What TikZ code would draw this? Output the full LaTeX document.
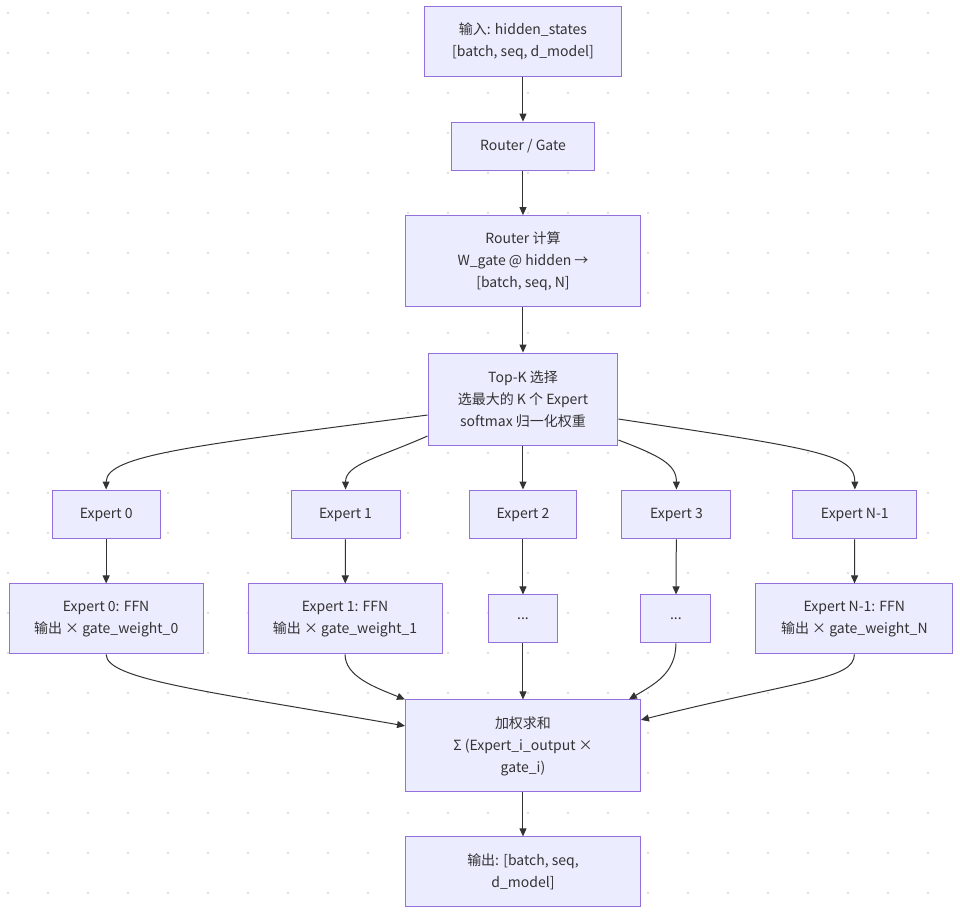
\documentclass[tikz,border=0pt]{standalone}
\usepackage{fontspec}
\setmainfont{Noto Sans CJK SC}
\usetikzlibrary{arrows.meta}
\definecolor{boxfill}{HTML}{ECECFF}
\definecolor{boxline}{HTML}{9370DB}
\definecolor{ink}{HTML}{333333}
\definecolor{dotc}{HTML}{E0E0E0}
\begin{document}
\begin{tikzpicture}[x=1pt,y=-1pt,
  box/.style={draw=boxline,fill=boxfill,line width=1pt,text=ink,align=center,
    inner sep=0pt,font=\fontsize{14}{22}\selectfont},
  arr/.style={draw=ink,line width=1pt,-{Triangle[length=8pt,width=7pt]}}]
\draw[white,fill=white] (0,0) rectangle (960,919);

% dot grid
\foreach \i in {0,...,23}
  \foreach \j in {0,...,22}
    \fill[dotc] (7+40*\i,12+40*\j) rectangle ++(2,2);

% main column
\node[box,minimum width=198pt,minimum height=70pt] (in) at (523,41) {输入: hidden\_states\\{}[batch, seq, d\_model]};
\node[box,minimum width=144pt,minimum height=48pt] (gate) at (523,146) {Router / Gate};
\node[box,minimum width=235pt,minimum height=91pt] (calc) at (523,261) {Router 计算\\W\_gate @ hidden →\\{}[batch, seq, N]};
\node[box,minimum width=190pt,minimum height=92pt] (topk) at (523,399) {Top-K 选择\\选最大的 K 个 Expert\\softmax 归一化权重};

% experts
\node[box,minimum width=108pt,minimum height=49pt] (e0) at (106,514.5) {Expert 0};
\node[box,minimum width=109pt,minimum height=49pt] (e1) at (345.5,514.5) {Expert 1};
\node[box,minimum width=108pt,minimum height=49pt] (e2) at (523,514.5) {Expert 2};
\node[box,minimum width=109pt,minimum height=49pt] (e3) at (676.5,514.5) {Expert 3};
\node[box,minimum width=124pt,minimum height=49pt] (eN) at (855,514.5) {Expert N-1};

\node[box,minimum width=194pt,minimum height=70pt] (f0) at (106,619) {Expert 0: FFN\\输出 × gate\_weight\_0};
\node[box,minimum width=194pt,minimum height=70pt] (f1) at (345,619) {Expert 1: FFN\\输出 × gate\_weight\_1};
\node[box,minimum width=70pt,minimum height=48pt] (f2) at (523,619) {...};
\node[box,minimum width=70pt,minimum height=48pt] (f3) at (676,619) {...};
\node[box,minimum width=197pt,minimum height=70pt] (fN) at (854.5,619) {Expert N-1: FFN\\输出 × gate\_weight\_N};

% output
\node[box,minimum width=235pt,minimum height=92pt] (sum) at (523,746) {加权求和\\Σ (Expert\_i\_output ×\\gate\_i)};
\node[box,minimum width=235pt,minimum height=70pt] (out) at (523,872) {输出: [batch, seq,\\d\_model]};

% straight edges
\draw[arr] (in) -- (gate);
\draw[arr] (gate) -- (calc);
\draw[arr] (calc) -- (topk);
\draw[arr] (topk) -- (e2);
\foreach \n in {0,1,2,3,N}
  \draw[arr] (e\n) -- (f\n);
\draw[arr] (f2) -- (sum);
\draw[arr] (sum) -- (out);

% fan out
\draw[arr] ([yshift=-16pt]topk.west) .. controls +(-228,30) and +(0,-35) .. (e0.north);
\draw[arr] ([yshift=-37pt]topk.west) .. controls +(-50,22) and +(0,-25) .. (e1.north);
\draw[arr] ([yshift=-41pt]topk.east) .. controls +(42,16) and +(0,-25) .. (e3.north);
\draw[arr] ([yshift=-20pt]topk.east) .. controls +(200,30) and +(0,-35) .. (eN.north);

% fan in
\draw[arr] (f0.south) .. controls +(0,25) and +(-200,-35) .. ([yshift=20pt]sum.west);
\draw[arr] (f1.south) .. controls +(0,22) and +(-30,-12) .. (sum.north west);
\draw[arr] (f3.south) .. controls +(0,30) and +(25,-15) .. ([xshift=-12pt]sum.north east);
\draw[arr] (fN.south) .. controls +(0,25) and +(160,-40) .. ([yshift=26pt]sum.east);
\end{tikzpicture}
\end{document}
